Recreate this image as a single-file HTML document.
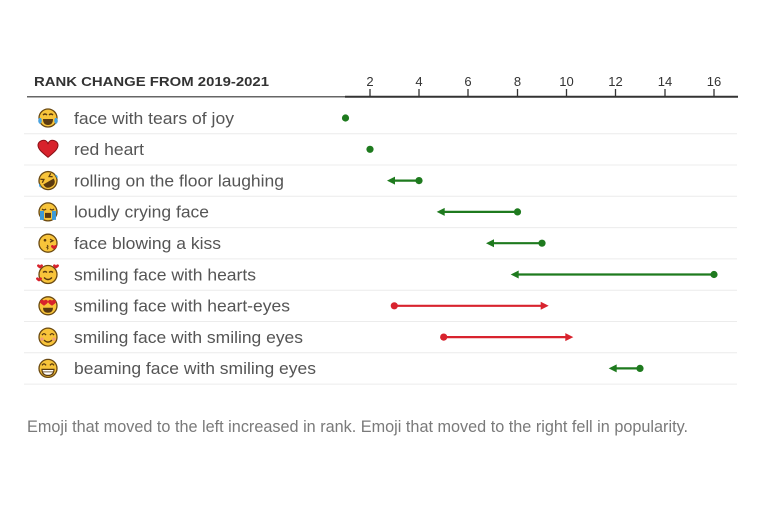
<!DOCTYPE html>
<html><head><meta charset="utf-8"><style>
html,body{margin:0;padding:0;background:#fff;}
svg{display:block;}
text{font-family:"Liberation Sans",Arial,sans-serif;}
</style></head><body>
<svg width="765" height="510" viewBox="0 0 765 510" xmlns="http://www.w3.org/2000/svg">
<defs>
<g id="face"><circle r="9" fill="#f8c43a" stroke="#6b4a12" stroke-width="1.3"/></g>
</defs>
<!-- header -->
<text x="34" y="86" font-size="13" font-weight="bold" fill="#333" textLength="235" lengthAdjust="spacingAndGlyphs">RANK CHANGE FROM 2019-2021</text>
<line x1="27" y1="96.8" x2="345" y2="96.8" stroke="#666" stroke-width="1.5"/>
<line x1="345" y1="96.8" x2="738" y2="96.8" stroke="#333" stroke-width="2"/>
<g stroke="#333" stroke-width="1.3">
<line x1="370" y1="89" x2="370" y2="97"/>
<line x1="419" y1="89" x2="419" y2="97"/>
<line x1="468" y1="89" x2="468" y2="97"/>
<line x1="517.5" y1="89" x2="517.5" y2="97"/>
<line x1="566.5" y1="89" x2="566.5" y2="97"/>
<line x1="615.5" y1="89" x2="615.5" y2="97"/>
<line x1="665" y1="89" x2="665" y2="97"/>
<line x1="714" y1="89" x2="714" y2="97"/>
</g>
<g font-size="13" fill="#333" text-anchor="middle">
<text x="370" y="86">2</text>
<text x="419" y="86">4</text>
<text x="468" y="86">6</text>
<text x="517.5" y="86">8</text>
<text x="566.5" y="86">10</text>
<text x="615.5" y="86">12</text>
<text x="665" y="86">14</text>
<text x="714" y="86">16</text>
</g>
<!-- separators -->
<g stroke="#ececec" stroke-width="1">
<line x1="24" y1="133.7" x2="737" y2="133.7"/>
<line x1="24" y1="165" x2="737" y2="165"/>
<line x1="24" y1="196.3" x2="737" y2="196.3"/>
<line x1="24" y1="227.6" x2="737" y2="227.6"/>
<line x1="24" y1="258.9" x2="737" y2="258.9"/>
<line x1="24" y1="290.2" x2="737" y2="290.2"/>
<line x1="24" y1="321.5" x2="737" y2="321.5"/>
<line x1="24" y1="352.8" x2="737" y2="352.8"/>
<line x1="24" y1="384.1" x2="737" y2="384.1"/>
</g>
<!-- labels -->
<g font-size="17" fill="#555">
<text x="74" y="124" textLength="160" lengthAdjust="spacingAndGlyphs">face with tears of joy</text>
<text x="74" y="155" textLength="70" lengthAdjust="spacingAndGlyphs">red heart</text>
<text x="74" y="186.4" textLength="210" lengthAdjust="spacingAndGlyphs">rolling on the floor laughing</text>
<text x="74" y="217.7" textLength="135" lengthAdjust="spacingAndGlyphs">loudly crying face</text>
<text x="74" y="249" textLength="147" lengthAdjust="spacingAndGlyphs">face blowing a kiss</text>
<text x="74" y="280.3" textLength="182" lengthAdjust="spacingAndGlyphs">smiling face with hearts</text>
<text x="74" y="311.6" textLength="216" lengthAdjust="spacingAndGlyphs">smiling face with heart-eyes</text>
<text x="74" y="342.9" textLength="229" lengthAdjust="spacingAndGlyphs">smiling face with smiling eyes</text>
<text x="74" y="374.2" textLength="242" lengthAdjust="spacingAndGlyphs">beaming face with smiling eyes</text>
</g>
<!-- emojis -->
<g transform="translate(48,118)">
<use href="#face"/>
<path d="M-5,-3 q2,-2 4,0 M1,-3 q2,-2 4,0" stroke="#5a3a10" stroke-width="1.3" fill="none"/>
<path d="M-5,1 h10 q0,6 -5,6 q-5,0 -5,-6z" fill="#5a3a10"/>
<path d="M-9,0 q-2,4 1,6 q3,-2 1,-6z M9,0 q2,4 -1,6 q-3,-2 -1,-6z" fill="#4aa3e0"/>
</g>
<g transform="translate(48,149.3)">
<path d="M0,8 C-6,3 -10,0 -10,-4 C-10,-8 -6,-9 -4,-9 C-2,-9 0,-7 0,-5 C0,-7 2,-9 4,-9 C6,-9 10,-8 10,-4 C10,0 6,3 0,8z" fill="#d8222c" stroke="#8a1016" stroke-width="1"/>
</g>
<g transform="translate(48,180.6) rotate(-30)">
<use href="#face"/>
<path d="M-6,-5 l3,2 l-3,2 M6,-5 l-3,2 l3,2" stroke="#5a3a10" stroke-width="1.3" fill="none"/>
<path d="M-6,1 h12 q0,6 -6,6 q-6,0 -6,-6z" fill="#5a3a10"/>
<path d="M-9,-2 q-3,3 0,5z M9,-2 q3,3 0,5z" fill="#4aa3e0"/>
</g>
<g transform="translate(48,211.9)">
<use href="#face"/>
<path d="M-6,-3 q2,2 4,0 M2,-3 q2,2 4,0" stroke="#5a3a10" stroke-width="1.3" fill="none"/>
<path d="M-3,1 h6 v5 h-6z" fill="#5a3a10"/>
<path d="M-8,-1 h4 v9 h-4z M4,-1 h4 v9 h-4z" fill="#3d9ad6"/>
</g>
<g transform="translate(48,243.2)">
<use href="#face"/>
<circle cx="-3" cy="-3" r="1.3" fill="#5a3a10"/>
<path d="M2,-4 l3,1.5 l-3,1.5" stroke="#5a3a10" stroke-width="1.2" fill="none"/>
<path d="M-1,2 q2,1 0,2 q2,1 0,2" stroke="#5a3a10" stroke-width="1.1" fill="none"/>
<path d="M6,6 c-2,-1 -3,-2 -3,-3 c0,-1 2,-2 3,0 c1,-2 3,-1 3,0 c0,1 -1,2 -3,3z" fill="#d8222c"/>
</g>
<g transform="translate(48,274.5)">
<use href="#face"/>
<path d="M-5,-2 q2,-2 4,0 M1,-2 q2,-2 4,0" stroke="#5a3a10" stroke-width="1.3" fill="none"/>
<path d="M-4,3 q4,4 8,0" stroke="#5a3a10" stroke-width="1.3" fill="none"/>
<path d="M-8,-6 c-2,-1 -3,-2 -3,-3 c0,-1 2,-2 3,0 c1,-2 3,-1 3,0 c0,1 -1,2 -3,3z M8,-6 c-2,-1 -3,-2 -3,-3 c0,-1 2,-2 3,0 c1,-2 3,-1 3,0 c0,1 -1,2 -3,3z M-9,7 c-2,-1 -3,-2 -3,-3 c0,-1 2,-2 3,0 c1,-2 3,-1 3,0 c0,1 -1,2 -3,3z" fill="#d8222c"/>
</g>
<g transform="translate(48,305.8)">
<use href="#face"/>
<path d="M-4,0 c-3,-2 -4,-3 -4,-4 c0,-2 3,-3 4,-1 c1,-2 4,-1 4,1 c0,1 -1,2 -4,4z M4,0 c-3,-2 -4,-3 -4,-4 c0,-2 3,-3 4,-1 c1,-2 4,-1 4,1 c0,1 -1,2 -4,4z" fill="#d8222c"/>
<path d="M-5,2 h10 q0,5 -5,5 q-5,0 -5,-5z" fill="#5a3a10"/>
</g>
<g transform="translate(48,337.1)">
<use href="#face"/>
<path d="M-6,-2 q2,-3 4,0 M2,-2 q2,-3 4,0" stroke="#5a3a10" stroke-width="1.3" fill="none"/>
<path d="M-4,3 q4,4 8,0" stroke="#5a3a10" stroke-width="1.3" fill="none"/>
<circle cx="-6" cy="2" r="1.6" fill="#f29a7a"/><circle cx="6" cy="2" r="1.6" fill="#f29a7a"/>
</g>
<g transform="translate(48,368.4)">
<use href="#face"/>
<path d="M-6,-3 q2,-3 4,0 M2,-3 q2,-3 4,0" stroke="#5a3a10" stroke-width="1.3" fill="none"/>
<path d="M-6,1 h12 q0,6 -6,6 q-6,0 -6,-6z" fill="#fff" stroke="#5a3a10" stroke-width="1.2"/>
<line x1="-6" y1="3.5" x2="6" y2="3.5" stroke="#5a3a10" stroke-width="0.8"/>
</g>
<!-- data -->
<g fill="#1e7a1e">
<circle cx="345.5" cy="118" r="3.6"/>
<circle cx="370" cy="149.3" r="3.6"/>
</g>
<g stroke="#1e7a1e" stroke-width="2.2" fill="#1e7a1e">
<line x1="419" y1="180.6" x2="393" y2="180.6"/><path d="M387,180.6 l8,-4 v8z" stroke="none"/><circle cx="419" cy="180.6" r="3.6" stroke="none"/>
<line x1="517.5" y1="211.9" x2="443" y2="211.9"/><path d="M436.7,211.9 l8,-4 v8z" stroke="none"/><circle cx="517.5" cy="211.9" r="3.6" stroke="none"/>
<line x1="542" y1="243.2" x2="492" y2="243.2"/><path d="M486,243.2 l8,-4 v8z" stroke="none"/><circle cx="542" cy="243.2" r="3.6" stroke="none"/>
<line x1="714" y1="274.5" x2="517" y2="274.5"/><path d="M510.7,274.5 l8,-4 v8z" stroke="none"/><circle cx="714" cy="274.5" r="3.6" stroke="none"/>
<line x1="640" y1="368.4" x2="615" y2="368.4"/><path d="M608.7,368.4 l8,-4 v8z" stroke="none"/><circle cx="640" cy="368.4" r="3.6" stroke="none"/>
</g>
<g stroke="#d8232e" stroke-width="2.2" fill="#d8232e">
<line x1="394.3" y1="305.8" x2="542" y2="305.8"/><path d="M548.7,305.8 l-8,-4 v8z" stroke="none"/><circle cx="394.3" cy="305.8" r="3.6" stroke="none"/>
<line x1="443.7" y1="337.1" x2="567" y2="337.1"/><path d="M573.3,337.1 l-8,-4 v8z" stroke="none"/><circle cx="443.7" cy="337.1" r="3.6" stroke="none"/>
</g>
<!-- footer -->
<text x="27" y="432" font-size="16.5" fill="#7a7a7a" textLength="661" lengthAdjust="spacingAndGlyphs">Emoji that moved to the left increased in rank. Emoji that moved to the right fell in popularity.</text>
</svg>
</body></html>
